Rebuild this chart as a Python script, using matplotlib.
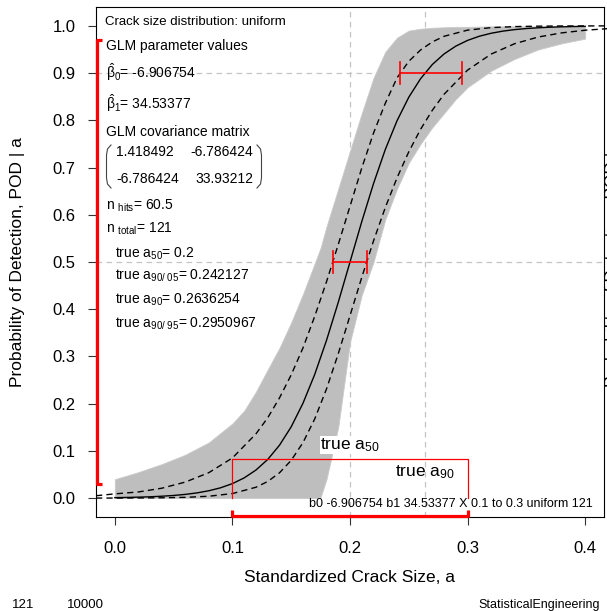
import matplotlib
matplotlib.use("Agg")
import matplotlib.pyplot as plt
from matplotlib.lines import Line2D

plt.rcParams['font.family'] = ['Liberation Sans', 'DejaVu Sans']
plt.rcParams['mathtext.fontset'] = 'custom'
plt.rcParams['mathtext.rm'] = 'Liberation Sans'
plt.rcParams['mathtext.it'] = 'Liberation Sans'
plt.rcParams['mathtext.sf'] = 'Liberation Sans'
plt.rcParams['mathtext.bf'] = 'Liberation Sans:bold'

# ---------------- data ----------------
x_ticks = [0.0, 0.1, 0.2, 0.3, 0.4]
x_tick_labels = ['0.0', '0.1', '0.2', '0.3', '0.4']
y_ticks = [0.0, 0.1, 0.2, 0.3, 0.4, 0.5, 0.6, 0.7, 0.8, 0.9, 1.0]
y_tick_labels = ['0.0', '0.1', '0.2', '0.3', '0.4', '0.5', '0.6', '0.7', '0.8', '0.9', '1.0']

# true POD curve (solid black)
x_true = [0.00, 0.01, 0.02, 0.03, 0.04, 0.05, 0.06, 0.07, 0.08, 0.09,
          0.10, 0.11, 0.12, 0.13, 0.14, 0.15, 0.16, 0.17, 0.18, 0.19,
          0.20, 0.21, 0.22, 0.23, 0.24, 0.25, 0.26, 0.27, 0.28, 0.29,
          0.30, 0.31, 0.32, 0.33, 0.34, 0.35, 0.36, 0.37, 0.38, 0.39, 0.40]
pod_true = [0.0010, 0.0014, 0.0020, 0.0028, 0.0040, 0.0056, 0.0079, 0.0111, 0.0156, 0.0219,
            0.0307, 0.0428, 0.0594, 0.0818, 0.1119, 0.1510, 0.2008, 0.2619, 0.3339, 0.4145,
            0.5000, 0.5855, 0.6661, 0.7381, 0.7992, 0.8490, 0.8881, 0.9182, 0.9406, 0.9572,
            0.9693, 0.9781, 0.9844, 0.9889, 0.9921, 0.9944, 0.9960, 0.9972, 0.9980, 0.9986, 0.9990]

# confidence bounds (dashed black)
x_bound = [-0.016, 0.00, 0.02, 0.04, 0.06, 0.08, 0.10, 0.12, 0.13, 0.14, 0.15, 0.16,
           0.17, 0.18, 0.19, 0.20, 0.21, 0.22, 0.23, 0.24, 0.25, 0.26, 0.27, 0.28,
           0.30, 0.32, 0.34, 0.36, 0.38, 0.40, 0.42]
pod_upper = [0.0050, 0.0090, 0.0130, 0.0210, 0.0340, 0.0540, 0.0850, 0.1360, 0.1700, 0.2120, 0.2610, 0.3180,
             0.3850, 0.4580, 0.5370, 0.6180, 0.6990, 0.7730, 0.8360, 0.8900, 0.9250, 0.9490, 0.9660, 0.9780,
             0.9910, 0.9963, 0.9985, 0.9994, 0.9998, 0.9999, 1.0000]
pod_lower = [0.0001, 0.0001, 0.0003, 0.0007, 0.0016, 0.0040, 0.0096, 0.0230, 0.0352, 0.0535, 0.0800, 0.1175,
             0.1676, 0.2311, 0.3056, 0.3864, 0.4675, 0.5447, 0.6153, 0.6783, 0.7334, 0.7810, 0.8213, 0.8552,
             0.9064, 0.9403, 0.9623, 0.9764, 0.9852, 0.9908, 0.9943]

# envelope of the simulated POD curves (grey band)
x_env = [0.00, 0.02, 0.04, 0.06, 0.08, 0.10, 0.11, 0.12, 0.13, 0.14, 0.15, 0.16, 0.17,
         0.175, 0.18, 0.19, 0.20, 0.21, 0.22, 0.23, 0.24, 0.25, 0.26, 0.27, 0.28,
         0.29, 0.30, 0.32, 0.34, 0.36, 0.38, 0.40]
env_high = [0.040, 0.055, 0.072, 0.092, 0.118, 0.158, 0.185, 0.225, 0.272, 0.318, 0.372, 0.432, 0.497,
            0.530, 0.575, 0.655, 0.735, 0.815, 0.890, 0.945, 0.975, 0.990, 0.994, 0.996, 0.997,
            0.998, 0.998, 0.999, 0.999, 0.999, 0.999, 0.999]
env_low = [0.000, 0.000, 0.000, 0.000, 0.000, 0.000, 0.000, 0.000, 0.000, 0.000, 0.000, 0.000, 0.000,
           0.002, 0.040, 0.150, 0.330, 0.430, 0.500, 0.590, 0.655, 0.710, 0.750, 0.785, 0.815,
           0.845, 0.870, 0.905, 0.930, 0.950, 0.963, 0.973]

# reference values
a50_true = 0.2
a90_true = 0.2636254
a90_05 = 0.242127
a90_95 = 0.2950967
a50_lo, a50_hi = 0.1858, 0.2145
crack_min, crack_max = 0.1, 0.3
pod_at_min, pod_at_max = 0.0307, 0.9693
box_top = 0.082

W, H = 607, 611
fig = plt.figure(figsize=(W / 100, H / 100), dpi=100)
ax = fig.add_axes([96 / W, 1 - 517 / H, 508 / W, 510 / H])
ax.set_xlim(-0.016, 0.416)
ax.set_ylim(-0.04, 1.04)


def P(px, py):
    return (px / W, 1 - py / H)


# grid reference lines
grid_kw = dict(color='#c4c4c4', lw=0.9, dashes=(4.5, 3.5), zorder=1)
for yv in [0.5, 0.9]:
    ax.axhline(yv, **grid_kw)
for xv in [a50_true, a90_true]:
    ax.axvline(xv, **grid_kw)

# grey band of simulated curves
ax.fill_between(x_env, env_low, env_high, color='#bebebe', lw=0.6, edgecolor='#cacaca', zorder=2)

# bounds and true curve
ax.plot(x_bound, pod_upper, color='black', lw=1.0, dashes=(4.5, 3), zorder=4, clip_on=False)
ax.plot(x_bound, pod_lower, color='black', lw=1.0, dashes=(4.5, 3), zorder=4, clip_on=False)
ax.plot(x_true, pod_true, color='black', lw=1.0, zorder=5)

# red error bars at POD 0.9 and 0.5
red = '#ff0000'
eh = 0.023
for (xa, xb, yv) in [(a90_05, a90_95, 0.9), (a50_lo, a50_hi, 0.5)]:
    ax.plot([xa, xb], [yv, yv], color=red, lw=1.2, zorder=6)
    ax.plot([xa, xa], [yv - eh, yv + eh], color=red, lw=1.2, zorder=6)
    ax.plot([xb, xb], [yv - eh, yv + eh], color=red, lw=1.2, zorder=6)

# red open box over crack-size range
ax.plot([crack_min, crack_min, crack_max, crack_max], [0.0, box_top, box_top, 0.0],
        color=red, lw=0.9, zorder=6)

# red brackets on the axes
xl = -0.0155
ax.plot([xl + 0.005, xl, xl, xl + 0.005], [pod_at_max, pod_at_max, pod_at_min, pod_at_min],
        color=red, lw=2.3, zorder=7, clip_on=False, solid_capstyle='butt')
yb = -0.0385
ax.plot([crack_min, crack_min, crack_max, crack_max], [yb + 0.013, yb, yb, yb + 0.013],
        color=red, lw=2.3, zorder=7, clip_on=False, solid_capstyle='butt')

# labels "true a50" / "true a90"
ax.text(a50_true, 0.112, r'true a$_{\mathrm{50}}$', fontsize=12.5, ha='center', va='center', zorder=8,
        bbox=dict(facecolor='white', edgecolor='none', pad=0.3))
ax.text(a90_true, 0.055, r'true a$_{\mathrm{90}}$', fontsize=12.5, ha='center', va='center', zorder=8)

# axes styling
ax.set_xticks(x_ticks)
ax.set_xticklabels(x_tick_labels)
ax.set_yticks(y_ticks)
ax.set_yticklabels(y_tick_labels)
ax.tick_params(axis='both', direction='out', length=5.8, width=0.8, labelsize=12, color='#333333')
ax.tick_params(axis='x', pad=11.5)
ax.tick_params(axis='y', pad=9.0)
for s in ax.spines.values():
    s.set_linewidth(0.8)
    s.set_color('black')

fig.text(*P(350, 578), 'Standardized Crack Size, a', fontsize=12.5, ha='center', va='center')
fig.text(*P(18, 262), 'Probability of Detection, POD | a', fontsize=12.5, ha='center', va='center',
         rotation=90)
# right-hand label, mostly beyond the picture edge as in the reference
fig.text(*P(605, 262), 'Probability of Detection, POD | a', fontsize=12.5, ha='left', va='center',
         rotation=90)

# information block
fs = 10
fig.text(*P(105, 25), 'Crack size distribution: uniform', fontsize=9.5, ha='left', va='baseline')
fig.text(*P(106, 50), 'GLM parameter values', fontsize=fs, ha='left', va='baseline')
fig.text(*P(106, 78), r'$\hat{\beta}_{0}$= -6.906754', fontsize=fs, ha='left', va='baseline')
fig.text(*P(106, 109), r'$\hat{\beta}_{1}$= 34.53377', fontsize=fs, ha='left', va='baseline')
fig.text(*P(106, 136.5), 'GLM covariance matrix', fontsize=fs, ha='left', va='baseline')
fig.text(*P(116, 155.5), '1.418492', fontsize=fs, ha='left', va='baseline')
fig.text(*P(253, 155.5), '-6.786424', fontsize=fs, ha='right', va='baseline')
fig.text(*P(116, 183), '-6.786424', fontsize=fs, ha='left', va='baseline')
fig.text(*P(253, 183), '33.93212', fontsize=fs, ha='right', va='baseline')
for pts in ([(111, 145), (107.5, 149), (106.5, 155), (106.5, 178), (107.5, 184), (111, 188)],
            [(257, 145), (260.5, 149), (261.5, 155), (261.5, 178), (260.5, 184), (257, 188)]):
    fig.add_artist(Line2D([P(p[0], p[1])[0] for p in pts], [P(p[0], p[1])[1] for p in pts],
                          color='#444444', lw=0.8))
fig.text(*P(106, 209.3), r'n $_{\mathrm{hits}}$= 60.5', fontsize=fs, ha='left', va='baseline')
fig.text(*P(106, 232.7), r'n $_{\mathrm{total}}$= 121', fontsize=fs, ha='left', va='baseline')
fig.text(*P(115, 257.5), r'true a$_{\mathrm{50}}$= 0.2', fontsize=fs, ha='left', va='baseline')
fig.text(*P(115, 280), r'true a$_{\mathrm{90/\ 05}}$= 0.242127', fontsize=fs, ha='left', va='baseline')
fig.text(*P(115, 303.5), r'true a$_{\mathrm{90}}$= 0.2636254', fontsize=fs, ha='left', va='baseline')
fig.text(*P(115, 327.5), r'true a$_{\mathrm{90/\ 95}}$= 0.2950967', fontsize=fs, ha='left', va='baseline')

fig.text(*P(593, 507), 'b0 -6.906754 b1 34.53377 X 0.1 to 0.3 uniform 121', fontsize=9, ha='right',
         va='baseline')

fig.text(*P(12, 608), '121', fontsize=9.5, ha='left', va='baseline')
fig.text(*P(67, 608), '10000', fontsize=9.5, ha='left', va='baseline')
fig.text(*P(600, 608), 'StatisticalEngineering', fontsize=9, ha='right', va='baseline')

fig.savefig('out.png', dpi=100)
